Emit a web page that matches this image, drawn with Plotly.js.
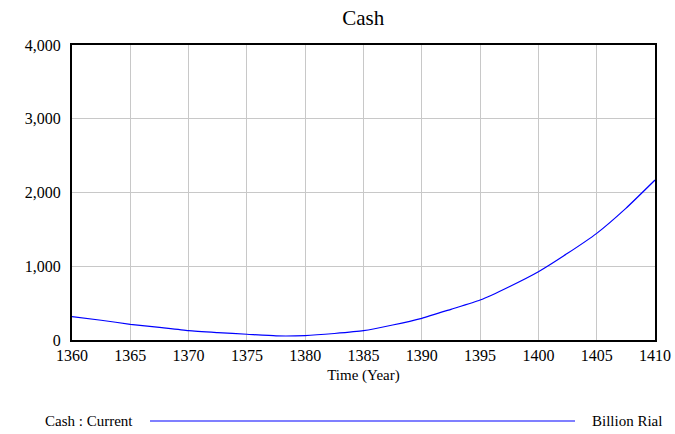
<!DOCTYPE html>
<html>
<head>
<meta charset="utf-8">
<script src="https://cdn.plot.ly/plotly-3.0.1.min.js"></script>
<style>html,body{margin:0;padding:0;background:#fff;}#chart{width:675px;height:434px;}</style>
</head>
<body>
<div id="chart"></div>
<script>
// Data
const years = [1360, 1362.5, 1365, 1367.5, 1370, 1372.5, 1375, 1377.5, 1380, 1382.5, 1385, 1387.5, 1390, 1392.5, 1395, 1397.5, 1400, 1402.5, 1405, 1407.5, 1410];
const cash = [316, 268, 213, 170, 126, 100, 78, 56, 60, 88, 126, 203, 294, 416, 542, 723, 926, 1175, 1446, 1785, 2169];
const xTicks = [1360, 1365, 1370, 1375, 1380, 1385, 1390, 1395, 1400, 1405, 1410];
const yTicks = [0, 1000, 2000, 3000, 4000];
const yTickText = ["0", "1,000", "2,000", "3,000", "4,000"];
const seriesName = "Cash : Current";
const unitLabel = "Billion Rial";

const font = "Times New Roman, Liberation Serif, DejaVu Serif, serif";

const trace = {
  x: years, y: cash, type: "scatter", mode: "lines",
  line: {color: "#0000ff", width: 1.2, shape: "spline", smoothing: 0.5},
  showlegend: false, hoverinfo: "skip"
};

const layout = {
  width: 675, height: 434,
  margin: {l: 72, r: 20, t: 45, b: 94},
  paper_bgcolor: "#fff", plot_bgcolor: "#fff",
  font: {family: font, color: "#000", size: 16},
  title: {text: "Cash", x: 0.538, xanchor: "center", y: 0.96, yanchor: "middle", font: {family: font, size: 21, color: "#000"}},
  xaxis: {
    range: [1360, 1410], tickvals: xTicks, ticktext: xTicks.map(String),
    showgrid: true, gridcolor: "#c8c8c8", gridwidth: 1,
    showline: true, linecolor: "#000", linewidth: 2, mirror: true,
    ticks: "", zeroline: false,
    tickfont: {family: font, size: 16, color: "#000"},
    title: {text: "Time (Year)", font: {family: font, size: 15, color: "#000"}, standoff: 6}
  },
  yaxis: {
    range: [0, 4000], tickvals: yTicks, ticktext: yTickText,
    showgrid: true, gridcolor: "#c8c8c8", gridwidth: 1,
    showline: true, linecolor: "#000", linewidth: 2, mirror: true,
    ticks: "", zeroline: false, ticklabelstandoff: 6,
    tickfont: {family: font, size: 16, color: "#000"}
  },
  shapes: [{
    type: "line", xref: "paper", yref: "paper",
    x0: 0.1338, x1: 0.8628, y0: -0.2746, y1: -0.2746,
    line: {color: "#0000ff", width: 1.2}
  }],
  annotations: [
    {text: seriesName, xref: "paper", yref: "paper", x: 0.108, y: -0.2746, xanchor: "right", yanchor: "middle", showarrow: false, font: {family: font, size: 15, color: "#000"}},
    {text: unitLabel, xref: "paper", yref: "paper", x: 0.8885, y: -0.2746, xanchor: "left", yanchor: "middle", showarrow: false, font: {family: font, size: 15, color: "#000"}}
  ]
};

Plotly.newPlot("chart", [trace], layout, {displayModeBar: false, staticPlot: true});
</script>
</body>
</html>
